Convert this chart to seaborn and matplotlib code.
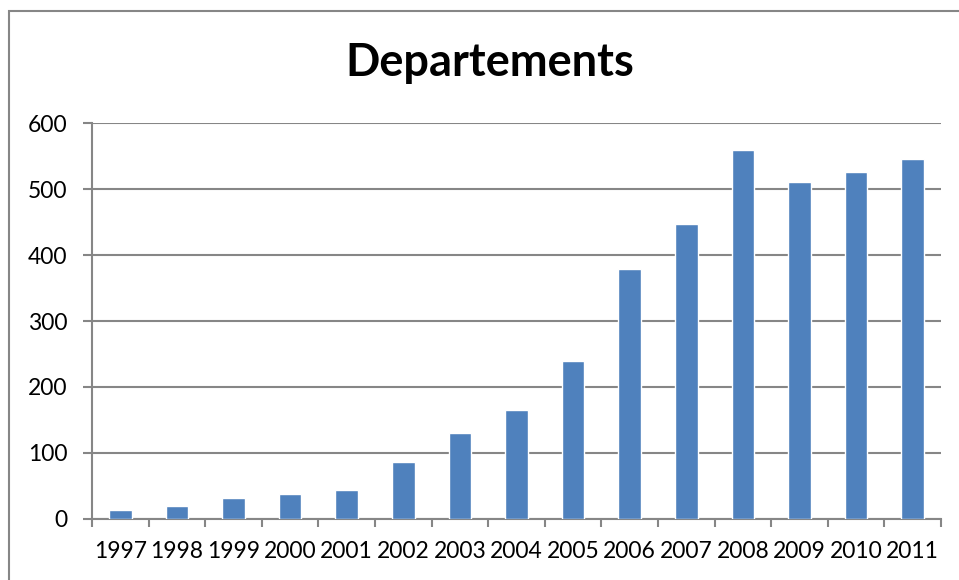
import matplotlib
matplotlib.use("Agg")
import matplotlib.pyplot as plt
from matplotlib.patches import Rectangle
from matplotlib.ticker import FixedLocator
import seaborn as sns
import pandas as pd

years = ["1997", "1998", "1999", "2000", "2001", "2002", "2003", "2004",
         "2005", "2006", "2007", "2008", "2009", "2010", "2011"]
counts = [14, 19, 32, 38, 44, 86, 131, 165, 240, 379, 447, 559, 511, 526, 545]
y_ticks = [0, 100, 200, 300, 400, 500, 600]
title = "Departements"

sns.set_theme(style="white")
plt.rcParams["font.family"] = ["Lato", "DejaVu Sans"]

df = pd.DataFrame({"year": years, "count": counts})

fig = plt.figure(figsize=(9.59, 5.8), dpi=100)
ax = fig.add_axes([0.0959, 0.1052, 0.9812 - 0.0959, 0.7879 - 0.1052])

grey = "#868686"
sns.barplot(data=df, x="year", y="count", color="#4F81BD", saturation=1,
            width=0.4, ax=ax, zorder=3)

ax.set_xlim(-0.5, len(years) - 0.5)
ax.set_ylim(0, 600)
ax.set_yticks(y_ticks)
ax.set_yticklabels([str(v) for v in y_ticks])
ax.set_xlabel("")
ax.set_ylabel("")

ax.yaxis.grid(True, color=grey, linewidth=1.5, zorder=0)
ax.xaxis.grid(False)
ax.set_axisbelow(True)

for side in ["top", "right"]:
    ax.spines[side].set_visible(False)
for side in ["left", "bottom"]:
    ax.spines[side].set_color(grey)
    ax.spines[side].set_linewidth(1.5)

# category boundary ticks on the x axis
ax.xaxis.set_minor_locator(FixedLocator([i - 0.5 for i in range(len(years) + 1)]))
ax.tick_params(axis="x", which="minor", bottom=True, length=6, width=1.5, color=grey)
ax.tick_params(axis="x", which="major", bottom=True, length=0, pad=16,
               labelsize=16.5, labelcolor="black")
ax.tick_params(axis="y", which="major", left=True, length=6.5, width=1.5,
               color=grey, pad=11, labelsize=16.5, labelcolor="black")

fig.text(0.511, 0.892, title, ha="center", va="center",
         fontsize=32.5, fontweight="bold", color="black")

# outer chart frame
fig.patches.append(Rectangle((9 / 959, -0.1), 1.2, 1 - 11 / 580 + 0.1,
                             transform=fig.transFigure, fill=False,
                             edgecolor=grey, linewidth=1.5))

fig.savefig("out.png", dpi=100)
